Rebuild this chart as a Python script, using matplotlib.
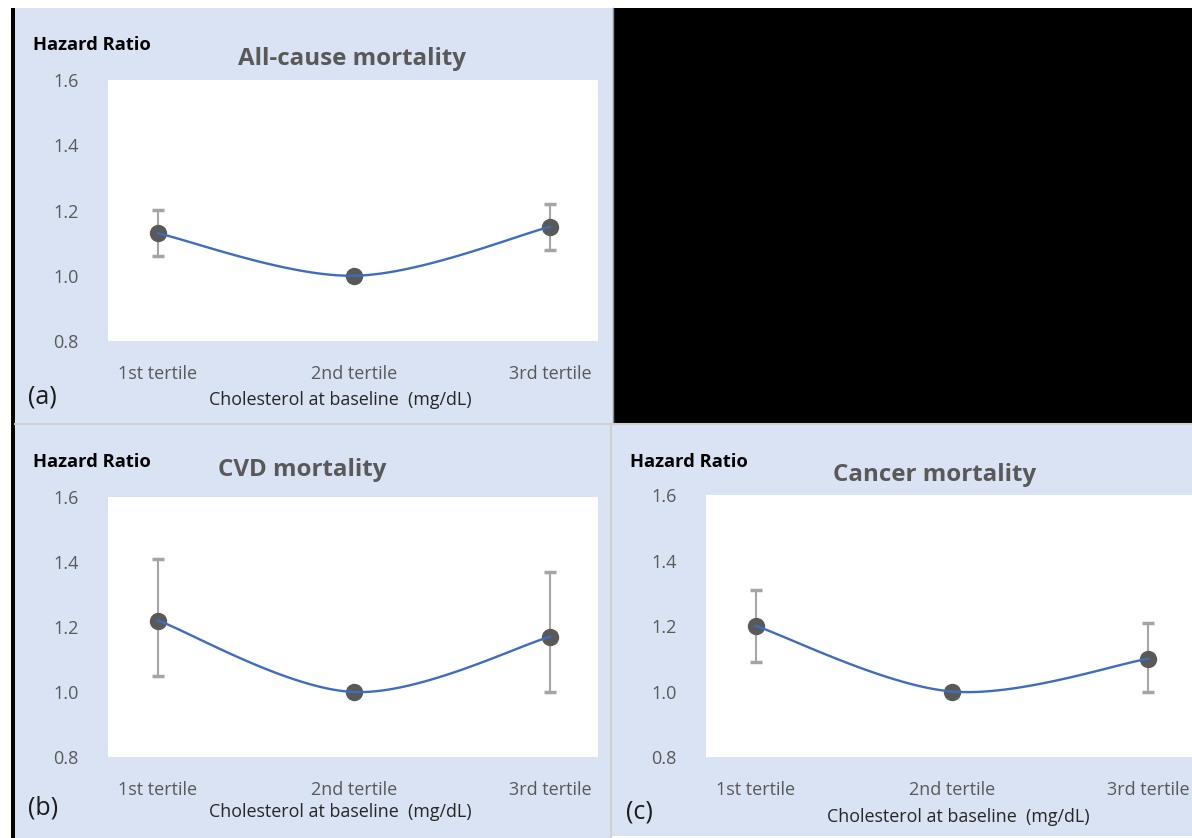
import numpy as np
import matplotlib
matplotlib.use("Agg")
import matplotlib.pyplot as plt
from matplotlib.patches import Rectangle
from matplotlib.lines import Line2D

plt.rcParams['font.family'] = ['Open Sans', 'DejaVu Sans']

W, H = 1192, 838

# hazard ratios by cholesterol tertile (2nd tertile = reference)
tertiles = ['1st tertile', '2nd tertile', '3rd tertile']
allcause_hr = [1.13, 1.00, 1.15]
allcause_lo = [1.06, 1.00, 1.08]
allcause_hi = [1.20, 1.00, 1.22]
cvd_hr = [1.22, 1.00, 1.17]
cvd_lo = [1.05, 1.00, 1.00]
cvd_hi = [1.41, 1.00, 1.37]
cancer_hr = [1.20, 1.00, 1.10]
cancer_lo = [1.09, 1.00, 1.00]
cancer_hi = [1.31, 1.00, 1.21]
yticks = [0.8, 1.0, 1.2, 1.4, 1.6]

BG = '#DAE3F3'
GREY_TXT = '#595959'


def fx(x):
    return x / W


def fy(y):
    return 1 - y / H


def rect(x0, y0, x1, y1, color):
    fig.patches.append(Rectangle((fx(x0), fy(y1)), fx(x1 - x0), (y1 - y0) / H,
                                 transform=fig.transFigure, facecolor=color,
                                 edgecolor='none', zorder=-10))


def smooth(xs, ys, n=60):
    # bezier smoothing through the points, like a spreadsheet "smoothed line"
    P = np.column_stack([xs, ys]).astype(float)
    Pe = np.vstack([P[0], P, P[-1]])
    out = []
    for i in range(len(P) - 1):
        p0, p3 = P[i], P[i + 1]
        c1 = p0 + (Pe[i + 2] - Pe[i]) / 6
        c2 = p3 - (Pe[i + 3] - Pe[i + 1]) / 6
        t = np.linspace(0, 1, n)[:, None]
        seg = ((1 - t) ** 3) * p0 + 3 * ((1 - t) ** 2) * t * c1 + 3 * (1 - t) * t ** 2 * c2 + t ** 3 * p3
        out.append(seg)
    c = np.vstack(out)
    return c[:, 0], c[:, 1]


def panel(box, hr, lo, hi, title, tag, hr_xy, title_xy, xlab_xy, tag_xy):
    x0, y0, x1, y1 = box
    ax = fig.add_axes([fx(x0), fy(y1), fx(x1 - x0), (y1 - y0) / H])
    ax.set_zorder(5)
    ax.set_facecolor('white')
    xs = np.arange(len(tertiles))
    hr = np.array(hr)
    yerr = [hr - np.array(lo), np.array(hi) - hr]
    ax.errorbar(xs, hr, yerr=yerr, fmt='none', ecolor='#A5A5A5', elinewidth=1.5,
                capsize=4.5, capthick=2.5, zorder=2)
    ax.plot(xs, hr, 'o', color=GREY_TXT, markersize=11.5, zorder=3)
    cx, cy = smooth(xs, hr)
    ax.plot(cx, cy, color='#3F6CBF', lw=1.7, zorder=4)
    ax.set_xlim(-0.255, 2.245)
    ax.set_ylim(0.8, 1.6)
    ax.set_yticks(yticks)
    ax.set_yticklabels([f'{v:.1f}' for v in yticks])
    ax.set_xticks(xs)
    ax.set_xticklabels(tertiles)
    ax.tick_params(length=0, labelsize=13, labelcolor=GREY_TXT)
    ax.tick_params(axis='y', pad=21)
    ax.tick_params(axis='x', pad=17)
    for s in ax.spines.values():
        s.set_visible(False)
    fig.text(fx(hr_xy[0]), fy(hr_xy[1]), 'Hazard Ratio', fontsize=13.2, fontweight='bold',
             color='black', ha='left', va='center')
    fig.text(fx(title_xy[0]), fy(title_xy[1]), title, fontsize=17.4, fontweight='bold',
             color=GREY_TXT, ha='center', va='center')
    fig.text(fx(xlab_xy[0]), fy(xlab_xy[1]), 'Cholesterol at baseline  (mg/dL)', fontsize=12.9,
             color='#262626', ha='center', va='center')
    fig.text(fx(tag_xy[0]), fy(tag_xy[1]), tag, fontsize=18, color='#1A1A1A',
             ha='left', va='center')
    return ax


fig = plt.figure(figsize=(W / 100, H / 100), dpi=100)
fig.patch.set_facecolor('white')

# panel backgrounds and frame
rect(11, 8, 15, H, 'black')
rect(15, 8, 613, 423, BG)
rect(614, 8, W, 423, 'black')
rect(15, 425, 610, H, BG)
rect(612, 425, W, 836, BG)
fig.lines.append(Line2D([fx(613), fx(613)], [fy(8), fy(423)], transform=fig.transFigure,
                        color='#8C8C8C', lw=1, zorder=-5))
fig.lines.append(Line2D([fx(15), fx(W)], [fy(424), fy(424)], transform=fig.transFigure,
                        color='#D0D0D0', lw=1.5, zorder=-5))
fig.lines.append(Line2D([fx(611), fx(611)], [fy(425), fy(H)], transform=fig.transFigure,
                        color='#D0D0D0', lw=1.5, zorder=-5))

panel((108, 80, 598, 341), allcause_hr, allcause_lo, allcause_hi, 'All-cause mortality', '(a)',
      (33, 45), (352, 59), (340, 400), (28, 397))
panel((108, 497, 598, 757), cvd_hr, cvd_lo, cvd_hi, 'CVD mortality', '(b)',
      (33, 462), (302, 470), (340, 812), (28, 808))
panel((706, 495, 1196, 757), cancer_hr, cancer_lo, cancer_hi, 'Cancer mortality', '(c)',
      (630, 462), (935, 475), (958, 817), (626, 812))

fig.savefig('out.png', dpi=100)
